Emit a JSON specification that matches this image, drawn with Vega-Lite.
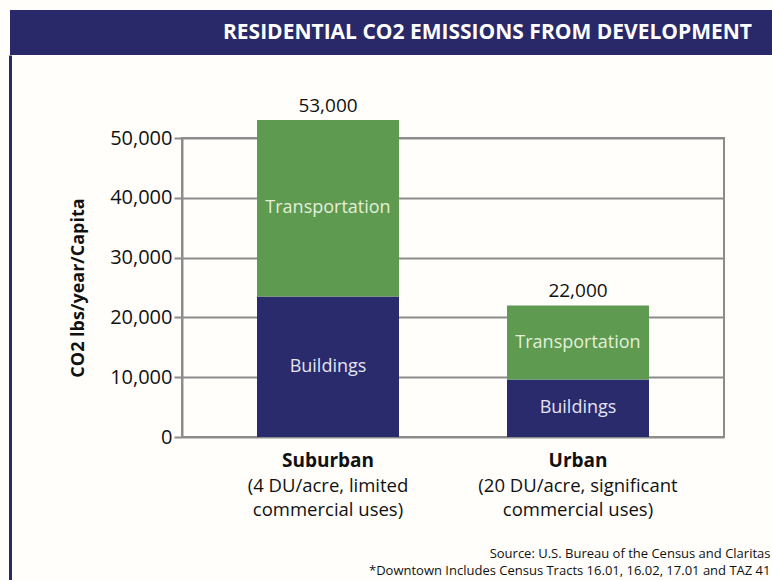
{
  "$schema": "https://vega.github.io/schema/vega-lite/v6.json",
  "background": "#fffefa",
  "padding": {"left": 10, "top": 10, "right": 0, "bottom": 0},
  "spacing": 0,
  "config": {"font": "Open Sans"},
  "vconcat": [
    {
      "width": 762,
      "height": 45,
      "view": {"fill": "#29296a", "stroke": null},
      "data": {"values": [{"t": "RESIDENTIAL CO2 EMISSIONS FROM DEVELOPMENT"}]},
      "mark": {"type": "text", "align": "right", "baseline": "middle", "dx": 361, "fontSize": 21, "fontWeight": "bold", "color": "#ffffff"},
      "encoding": {"text": {"field": "t"}}
    },
    {
      "columns": 2,
      "align": "none",
      "spacing": 57,
      "concat": [
        {
          "width": 1,
          "height": 442,
          "view": {"stroke": null},
          "data": {"values": [{"v": 0}]},
          "mark": {"type": "text", "text": ""},
          "encoding": {
            "y": {
              "field": "v",
              "type": "quantitative",
              "scale": {"domain": [0, 1], "range": [442, -83]},
              "axis": {"title": null, "labels": false, "ticks": false, "grid": false, "domain": true, "domainColor": "#29296a", "domainWidth": 3}
            }
          }
        },
        {
          "width": 542,
          "height": 299,
          "view": {"stroke": "#8c8c8c", "strokeWidth": 2},
          "title": {"text": " ", "fontSize": 10, "offset": 31},
          "data": {"values": [
            {"area": "Suburban", "part": "Buildings", "value": 23500, "desc": "(4 DU/acre, limited\ncommercial uses)"},
            {"area": "Suburban", "part": "Transportation", "value": 29500, "desc": "(4 DU/acre, limited\ncommercial uses)"},
            {"area": "Urban", "part": "Buildings", "value": 9600, "desc": "(20 DU/acre, significant\ncommercial uses)"},
            {"area": "Urban", "part": "Transportation", "value": 12400, "desc": "(20 DU/acre, significant\ncommercial uses)"}
          ]},
          "transform": [
            {"stack": "value", "groupby": ["area"], "sort": [{"field": "part", "order": "ascending"}], "as": ["v0", "v1"]},
            {"calculate": "(datum.v0 + datum.v1) / 2", "as": "mid"}
          ],
          "encoding": {
            "x": {
              "field": "area",
              "type": "nominal",
              "sort": ["Suburban", "Urban"],
              "scale": {"paddingInner": 0.432, "paddingOuter": 0.3},
              "axis": {
                "title": ["Source: U.S. Bureau of the Census and Claritas", "*Downtown Includes Census Tracts 16.01, 16.02, 17.01 and TAZ 41"],
                "titleFontSize": 13,
                "titleFontWeight": "normal",
                "titleColor": "#111111",
                "titleAlign": "right",
                "titleAnchor": "end",
                "titleX": 588,
                "titleY": 110,
                "titleBaseline": "top",
                "titleLineHeight": 17,
                "labelFontSize": 19,
                "labelFontWeight": "bold",
                "labelColor": "#111111",
                "labelPadding": 14,
                "labelAngle": 0,
                "ticks": false,
                "tickSize": 0,
                "domain": false
              }
            }
          },
          "layer": [
            {
              "mark": {"type": "bar"},
              "encoding": {
                "y": {
                  "field": "v1",
                  "type": "quantitative",
                  "title": "CO2 lbs/year/Capita",
                  "scale": {"domain": [0, 50000], "nice": false},
                  "axis": {
                    "titleFontSize": 18,
                    "titleFontWeight": "bold",
                    "titleColor": "#111111",
                    "titlePadding": 22,
                    "values": [0, 5000, 10000, 15000, 20000, 25000, 30000, 35000, 40000, 45000, 50000],
                    "labelExpr": "datum.value % 10000 === 0 ? format(datum.value, ',') : ''",
                    "labelFontSize": 20,
                    "labelColor": "#111111",
                    "labelPadding": 2,
                    "tickSize": 8,
                    "tickColor": "#8c8c8c",
                    "tickWidth": 2,
                    "domainColor": "#8c8c8c",
                    "domainWidth": 2,
                    "grid": true,
                    "gridColor": "#8c8c8c",
                    "gridWidth": 2,
                    "gridOpacity": {"condition": {"test": "datum.value % 10000 === 0", "value": 1}, "value": 0}
                  }
                },
                "y2": {"field": "v0"},
                "color": {
                  "field": "part",
                  "type": "nominal",
                  "scale": {"domain": ["Buildings", "Transportation"], "range": ["#2a2b6c", "#5e9a50"]},
                  "legend": null
                }
              }
            },
            {
              "mark": {"type": "text", "fontSize": 18, "baseline": "middle"},
              "encoding": {
                "y": {"field": "mid", "type": "quantitative", "title": "CO2 lbs/year/Capita"},
                "text": {"field": "part"},
                "color": {"condition": {"test": "datum.part === 'Transportation'", "value": "#e2efda"}, "value": "#e4e4f2"}
              }
            },
            {
              "transform": [{"filter": "datum.part === 'Transportation'"}],
              "mark": {"type": "text", "fontSize": 19, "baseline": "alphabetic", "dy": -8, "color": "#111111"},
              "encoding": {
                "y": {"field": "v1", "type": "quantitative", "title": "CO2 lbs/year/Capita"},
                "text": {"field": "v1", "type": "quantitative", "format": ","}
              }
            },
            {
              "transform": [{"filter": "datum.part === 'Buildings'"}],
              "mark": {"type": "text", "fontSize": 18.5, "baseline": "top", "dy": 40, "lineHeight": 24, "lineBreak": "\n", "color": "#111111"},
              "encoding": {
                "y": {"datum": 0, "type": "quantitative", "title": "CO2 lbs/year/Capita"},
                "text": {"field": "desc"}
              }
            }
          ]
        }
      ]
    }
  ]
}
